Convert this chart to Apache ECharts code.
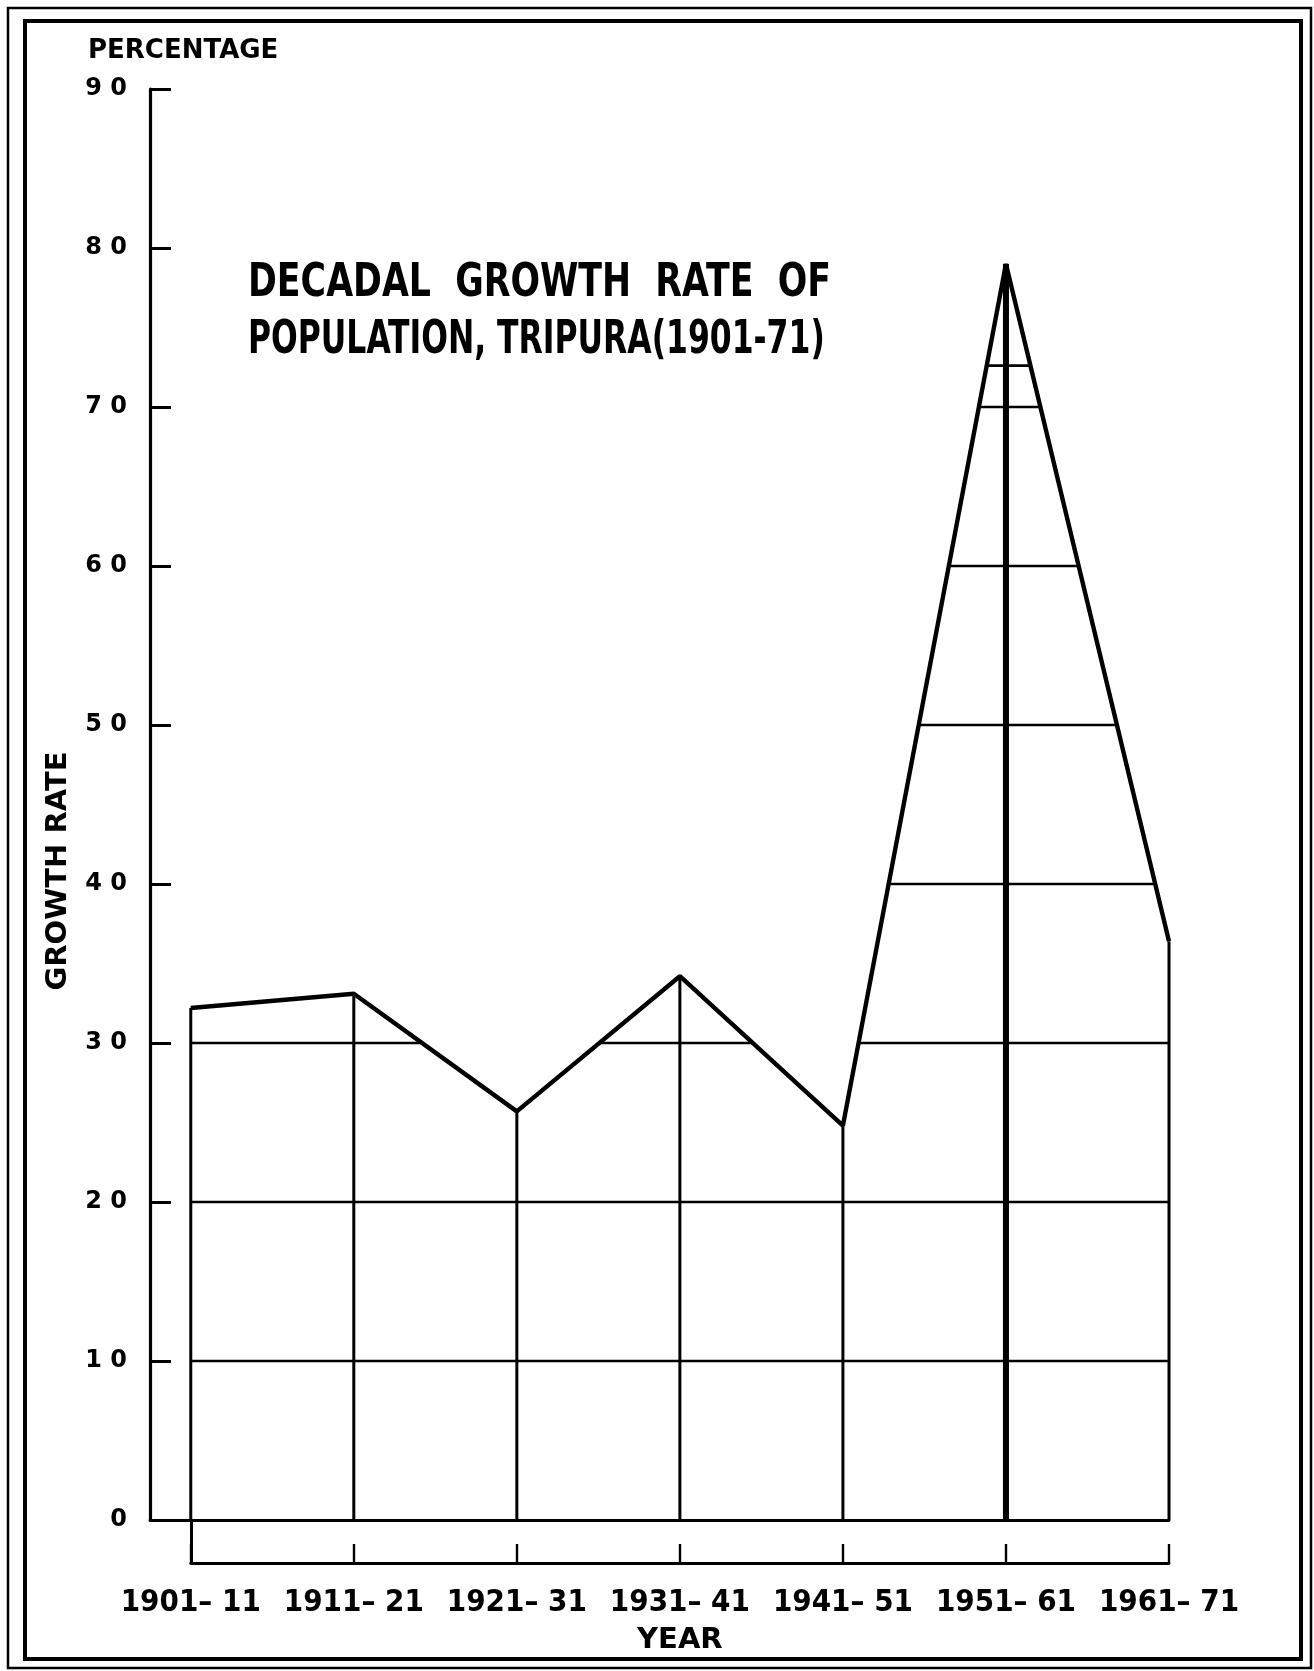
<!DOCTYPE html>
<html>
<head>
<meta charset="utf-8">
<script src="https://cdn.jsdelivr.net/npm/echarts@6/dist/echarts.min.js"></script>
<style>
html,body{margin:0;padding:0;background:#fff;}
#chart{width:1314px;height:1671px;}
</style>
</head>
<body>
<div id="chart"></div>
<script>
// ---- data ----
const categories = ['1901– 11', '1911– 21', '1921– 31', '1931– 41', '1941– 51', '1951– 61', '1961– 71'];
const growthRate = [32.2, 33.1, 25.7, 34.2, 24.8, 79.0, 36.4];
const hatchLevels = [10, 20, 30, 40, 50, 60, 70, 72.6];
const yMin = 0, yMax = 90, yStep = 10;
const titleLines = ['DECADAL  GROWTH  RATE  OF', 'POPULATION, TRIPURA(1901-71)'];
const yAxisTitle = 'GROWTH RATE';
const yUnitLabel = 'PERCENTAGE';
const xAxisTitle = 'YEAR';

// ---- chart ----
const chart = echarts.init(document.getElementById('chart'), null, {renderer: 'canvas'});
const FONT = 'DejaVu Sans';
const pts = growthRate.map((v, i) => [i, v]);

function hatchRender(params, api) {
  const L = api.value(1);
  const segs = [];
  let start = null;
  const n = growthRate.length;
  for (let i = 0; i < n - 1; i++) {
    const a = growthRate[i], b = growthRate[i + 1];
    let lo = null, hi = null;
    if (a >= L && b >= L) { lo = i; hi = i + 1; }
    else if (a >= L && b < L) { lo = i; hi = i + (a - L) / (a - b); }
    else if (a < L && b >= L) { lo = i + (L - a) / (b - a); hi = i + 1; }
    if (lo === null) { if (start !== null) { segs.push(start); start = null; } continue; }
    if (start !== null && Math.abs(start[1] - lo) < 1e-9) { start[1] = hi; }
    else { if (start !== null) segs.push(start); start = [lo, hi]; }
  }
  if (start !== null) segs.push(start);
  const children = segs.map(s => {
    const p0 = api.coord([s[0], L]);
    const p1 = api.coord([s[1], L]);
    return {type: 'line', shape: {x1: p0[0], y1: p0[1], x2: p1[0], y2: p1[1]},
            style: {stroke: '#000', lineWidth: 2.6}};
  });
  return {type: 'group', children: children};
}

function vertRender(params, api) {
  const i = api.value(0), v = api.value(1);
  const p0 = api.coord([i, 0]);
  const p1 = api.coord([i, v]);
  return {type: 'line', shape: {x1: p0[0], y1: p0[1], x2: p1[0], y2: p1[1]},
          style: {stroke: '#000', lineWidth: params.dataIndex === 5 ? 6 : 3}};
}

const titleFont = {fontFamily: 'DejaVu Sans Condensed', fontWeight: 'bold', fontSize: 46, fill: '#000'};

const option = {
  backgroundColor: '#fff',
  animation: false,
  title: [
    {text: yUnitLabel, left: 83, top: 33,
     textStyle: {fontFamily: FONT, fontWeight: 'bold', fontSize: 26, color: '#000'}}
  ],
  grid: [
    {left: 150, right: 145, top: 89, bottom: 151, containLabel: false},
    {left: 190.75, right: 145, top: 1520, height: 43, containLabel: false}
  ],
  xAxis: [
    {gridIndex: 0, type: 'value', min: -0.25, max: 6,
     axisLine: {show: true, onZero: false, lineStyle: {color: '#000', width: 2.8}},
     axisTick: {show: false}, axisLabel: {show: false}, splitLine: {show: false}},
    {gridIndex: 1, type: 'category', data: categories, boundaryGap: false,
     axisLine: {show: true, onZero: false, lineStyle: {color: '#000', width: 2.8}},
     axisTick: {show: true, inside: true, length: 19, lineStyle: {color: '#000', width: 2.4}},
     axisLabel: {show: true, margin: 24, interval: 0, color: '#000', fontFamily: 'DejaVu Sans Condensed', fontWeight: 'bold', fontSize: 31},
     name: xAxisTitle, nameLocation: 'middle', nameGap: 63,
     nameTextStyle: {color: '#000', fontFamily: FONT, fontWeight: 'bold', fontSize: 29}}
  ],
  yAxis: [
    {gridIndex: 0, type: 'value', min: yMin, max: yMax, interval: yStep,
     axisLine: {show: true, onZero: false, lineStyle: {color: '#000', width: 3.2}},
     axisTick: {show: true, inside: true, length: 21, lineStyle: {color: '#000', width: 3}},
     axisLabel: {show: true, margin: 23, color: '#000', fontFamily: FONT, fontWeight: 'bold', fontSize: 24,
                 formatter: v => String(v).split('').join(' ')},
     splitLine: {show: false}},
    {gridIndex: 1, type: 'value', min: 0, max: 1,
     axisLine: {show: true, onZero: false, lineStyle: {color: '#000', width: 3}},
     axisTick: {show: false}, axisLabel: {show: false}, splitLine: {show: false}}
  ],
  graphic: [
    {type: 'rect', shape: {x: 8, y: 8, width: 1303, height: 1660}, style: {fill: 'none', stroke: '#000', lineWidth: 2.5}, silent: true},
    {type: 'rect', shape: {x: 25, y: 21, width: 1276, height: 1638}, style: {fill: 'none', stroke: '#000', lineWidth: 4}, silent: true},
    {type: 'text', x: 248, y: 284, scaleX: 0.84, silent: true,
     style: Object.assign({text: titleLines[0], verticalAlign: 'middle', align: 'left'}, titleFont)},
    {type: 'text', x: 248, y: 341, scaleX: 0.76, silent: true,
     style: Object.assign({text: titleLines[1], verticalAlign: 'middle', align: 'left'}, titleFont)},
    {type: 'text', x: 58, y: 871, rotation: Math.PI / 2, silent: true,
     style: {text: yAxisTitle, fontFamily: FONT, fontWeight: 'bold', fontSize: 29, fill: '#000', align: 'center', verticalAlign: 'middle'}}
  ],
  series: [
    {type: 'custom', xAxisIndex: 0, yAxisIndex: 0, renderItem: hatchRender, clip: false,
     data: hatchLevels.map(l => [0, l]), z: 2},
    {type: 'custom', xAxisIndex: 0, yAxisIndex: 0, renderItem: vertRender, clip: false,
     data: pts, z: 3},
    {type: 'line', xAxisIndex: 0, yAxisIndex: 0, data: pts, symbol: 'none',
     lineStyle: {color: '#000', width: 4.4}, z: 4}
  ]
};
chart.setOption(option);
</script>
</body>
</html>
